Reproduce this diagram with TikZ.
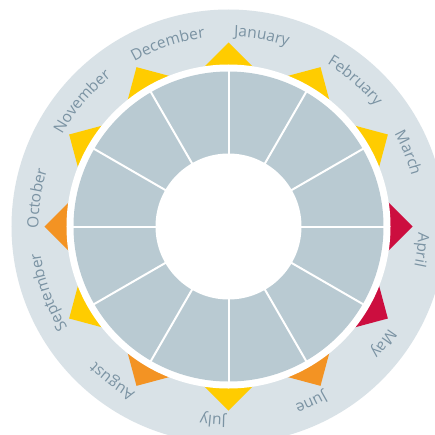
\documentclass[tikz,border=0pt]{standalone}
\usepackage{fontspec}
\usetikzlibrary{decorations.text}
\newfontfamily\lblfamily{Open Sans}
\newcommand{\lblfont}{\lblfamily\fontsize{15.5}{15.5}\selectfont}
\definecolor{bgc}{HTML}{D9E2E7}
\definecolor{segc}{HTML}{B9CAD2}
\definecolor{txtc}{HTML}{7B93A3}
\definecolor{yel}{HTML}{FFCC00}
\definecolor{org}{HTML}{F39323}
\definecolor{red}{HTML}{CC0E3F}
\newcommand{\mlabel}[2]{%
  \path[decorate,decoration={text along path,text={|\lblfont|#1},text align=center,text color=txtc}]
    (#2+25:190) arc[start angle=#2+25,end angle=#2-25,radius=190];}
\begin{document}
\begin{tikzpicture}[x=1pt,y=1pt]
\useasboundingbox (-228.5,-207.5) rectangle (206.5,226.5);
\clip (-228.5,-207.5) rectangle (206.5,226.5);
\fill[white] (-228.5,-207.5) rectangle (206.5,226.5);
\fill[bgc] (0,0) circle[radius=217];
\foreach \a/\c in {90/yel,60/yel,30/yel,0/red,-30/red,-60/org,-90/yel,-120/org,-150/yel,180/org,150/yel,120/yel}
  \fill[\c, rotate=\a] (184,0) -- (155,29) -- (155,-29) -- cycle;
\fill[white] (0,0) circle[radius=162];
\fill[segc] (0,0) circle[radius=155];
\fill[white] (0,0) circle[radius=73];
\foreach \a in {0,30,...,330}
  \draw[white, line width=2pt] (\a:72) -- (\a:156);
\mlabel{January}{80.1}
\mlabel{February}{49}
\mlabel{March}{22.3}
\mlabel{April}{-6.9}
\mlabel{May}{-37.1}
\mlabel{June}{-64.8}
\mlabel{July}{-94.6}
\mlabel{August}{-126.9}
\mlabel{September}{-159.9}
\mlabel{October}{171.6}
\mlabel{November}{139.6}
\mlabel{December}{108.4}
\end{tikzpicture}
\end{document}
